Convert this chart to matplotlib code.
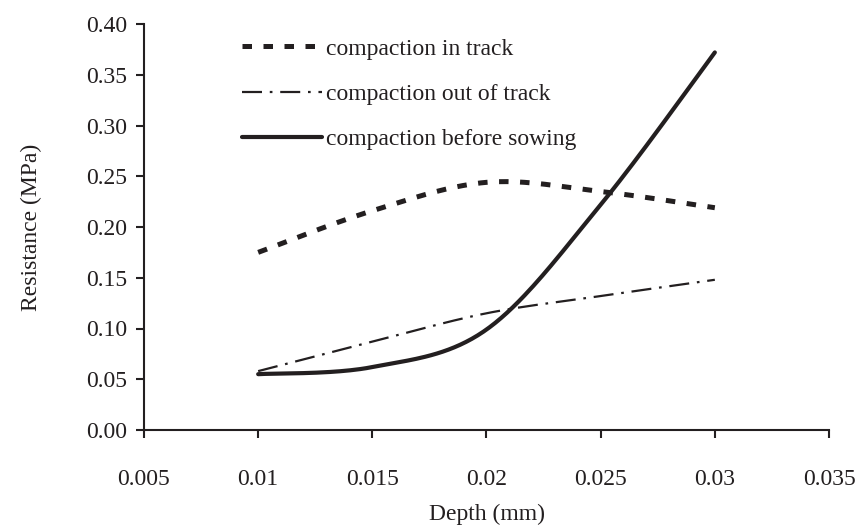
import numpy as np
import matplotlib
matplotlib.use('Agg')
import matplotlib.pyplot as plt

# depth (mm) and resistance (MPa)
depth = [0.01, 0.015, 0.02, 0.025, 0.03]
in_track = [0.175, 0.216, 0.244, 0.235, 0.219]
out_of_track = [0.058, 0.087, 0.115, 0.132, 0.148]
before_sowing = [0.055, 0.062, 0.099, 0.222, 0.372]

x_ticks = [0.005, 0.01, 0.015, 0.02, 0.025, 0.03, 0.035]
x_tick_labels = ['0.005', '0.01', '0.015', '0.02', '0.025', '0.03', '0.035']
y_ticks = [0.0, 0.05, 0.10, 0.15, 0.20, 0.25, 0.30, 0.35, 0.40]


def smooth(xs, ys, n=40):
    # Excel-like smoothed line: Catmull-Rom pieces as cubic Bezier
    xs = np.asarray(xs, float)
    ys = np.asarray(ys, float)
    px = np.concatenate([[xs[0]], xs, [xs[-1]]])
    py = np.concatenate([[ys[0]], ys, [ys[-1]]])
    ox, oy = [], []
    t = np.linspace(0, 1, n)
    for i in range(1, len(px) - 2):
        p0 = np.array([px[i], py[i]])
        p3 = np.array([px[i + 1], py[i + 1]])
        c1 = p0 + (np.array([px[i + 1], py[i + 1]]) - np.array([px[i - 1], py[i - 1]])) / 6
        c2 = p3 - (np.array([px[i + 2], py[i + 2]]) - np.array([px[i], py[i]])) / 6
        b = ((1 - t) ** 3)[:, None] * p0 + (3 * (1 - t) ** 2 * t)[:, None] * c1 \
            + (3 * (1 - t) * t ** 2)[:, None] * c2 + (t ** 3)[:, None] * p3
        ox.extend(b[:, 0])
        oy.extend(b[:, 1])
    return ox, oy


plt.rcParams['font.family'] = ['Liberation Serif', 'DejaVu Serif']
fig = plt.figure(figsize=(8.57, 5.31), dpi=100, facecolor='white')
ax = fig.add_axes([144 / 857, 1 - 430 / 531, (829 - 144) / 857, (430 - 24) / 531])

ink = '#231f20'
fs = 17
sx, sy = smooth(depth, in_track)
ax.plot(sx, sy, color=ink, lw=3.6, dashes=(1.9, 2.3), dash_capstyle='butt',
        label='compaction in track')
sx, sy = smooth(depth, out_of_track)
ax.plot(sx, sy, color=ink, lw=1.6, dashes=(9, 3.5, 1.2, 3.5),
        label='compaction out of track')
sx, sy = smooth(depth, before_sowing)
ax.plot(sx, sy, color=ink, lw=3.0, solid_capstyle='round',
        label='compaction before sowing')

ax.set_xlim(0.005, 0.035)
ax.set_ylim(0, 0.40)
ax.set_xticks(x_ticks)
ax.set_xticklabels(x_tick_labels)
ax.set_yticks(y_ticks)
ax.set_yticklabels([f'{v:.2f}' for v in y_ticks])
ax.spines['top'].set_visible(False)
ax.spines['right'].set_visible(False)
for s in ('left', 'bottom'):
    ax.spines[s].set_linewidth(1.5)
    ax.spines[s].set_color(ink)
ax.tick_params(direction='out', length=6, width=1.5, colors=ink,
               labelsize=fs, pad=6)
ax.tick_params(axis='x', pad=22)

ax.set_xlabel('Depth (mm)', fontsize=fs, color=ink, labelpad=10)
ax.set_ylabel('Resistance (MPa)', fontsize=fs, color=ink, labelpad=32)

ax.legend(loc='upper left', bbox_to_anchor=(0.143, 0.965), frameon=False,
          fontsize=fs, handlelength=3.4, handletextpad=0.15,
          labelspacing=1.0, borderaxespad=0, borderpad=0, labelcolor=ink)

fig.savefig('out.png', dpi=100, facecolor='white')
